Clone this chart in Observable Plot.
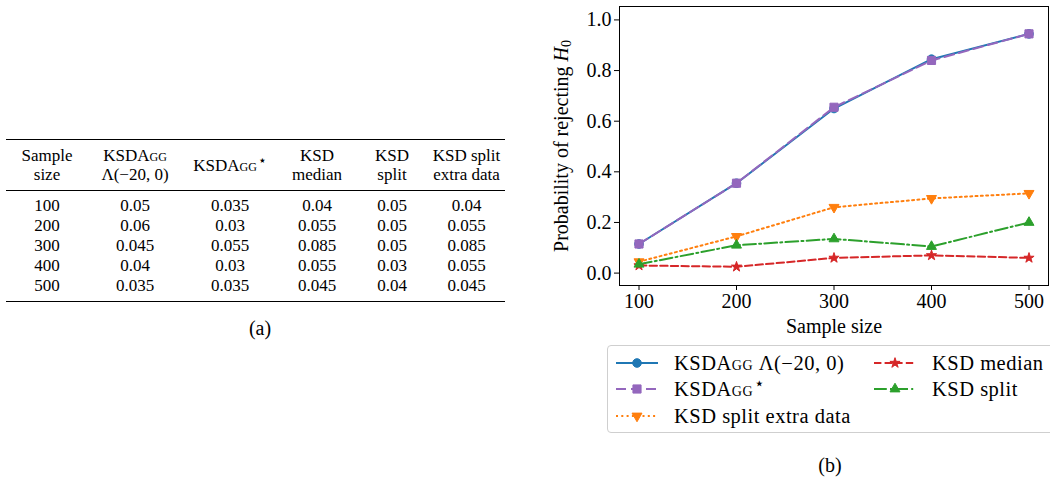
<!DOCTYPE html>
<html>
<head>
<meta charset="utf-8">
<script src="https://cdn.jsdelivr.net/npm/d3@7"></script>
<script src="https://cdn.jsdelivr.net/npm/@observablehq/plot@0.6"></script>
<style>
  html, body { margin: 0; padding: 0; background: #fff; }
  body { width: 1050px; height: 482px; position: relative; overflow: hidden; font-family: 'Liberation Serif', 'Times New Roman', serif; color: #000; }
  .sc { font-variant: small-caps; }
  sup.st { font-size: 0.85em; line-height: 0; vertical-align: 0; position: relative; top: -0.4em; margin-left: 1px; }
  #tbl { position: absolute; left: 6px; top: 139px; border-collapse: collapse; font-size: 17px; table-layout: fixed; width: 499px; }
  #tbl th, #tbl td { text-align: center; padding: 0; font-weight: normal; }
  #tbl thead tr { border-top: 1.5px solid #000; border-bottom: 1px solid #000; }
  #tbl thead th { height: 50px; line-height: 19px; vertical-align: middle; }
  #tbl tbody tr td { height: 20px; line-height: 20px; }
  #tbl tbody tr:first-child td { padding-top: 5px; }
  #tbl tbody tr:last-child td { padding-bottom: 5px; }
  #tbl tbody tr:last-child { border-bottom: 1.5px solid #000; }
  .cap { position: absolute; font-size: 20px; transform: translate(-50%, -50%); }
  #chart { position: absolute; left: 540px; top: 0px; }
  #legend { position: absolute; left: 607px; top: 345px; width: 460px; height: 86px; border: 1px solid #cfcfcf; border-radius: 4px; font-size: 20.5px; letter-spacing: 0.5px; }
  .lg { position: absolute; height: 22px; line-height: 22px; white-space: nowrap; }
  .lg svg { position: absolute; left: 0; top: 1px; }
  .lg span.t { position: absolute; }
</style>
</head>
<body>
<table id="tbl">
  <colgroup><col style="width:82px"><col style="width:94px"><col style="width:96px"><col style="width:78px"><col style="width:72px"><col style="width:77px"></colgroup>
  <thead><tr id="hdr"></tr></thead>
  <tbody id="tbody"></tbody>
</table>
<div class="cap" style="left:260px; top:328px;">(a)</div>
<div id="chart"></div>
<div id="legend"></div>
<div class="cap" style="left:830px; top:465px;">(b)</div>
<script>
// ---------- Data ----------
const sampleSizes = [100, 200, 300, 400, 500];

// Panel (b): probability of rejecting H0
const ksdaggLambda   = [0.115, 0.355, 0.650, 0.845, 0.945];
const ksdaggStar     = [0.115, 0.355, 0.655, 0.840, 0.945];
const ksdSplitExtra  = [0.045, 0.145, 0.260, 0.295, 0.315];
const ksdMedian      = [0.030, 0.025, 0.060, 0.070, 0.060];
const ksdSplit       = [0.035, 0.110, 0.135, 0.105, 0.200];

const xTicks = [100, 200, 300, 400, 500];
const yTicks = [0.0, 0.2, 0.4, 0.6, 0.8, 1.0];

// Panel (a): table values
const tableHeaders = [
  "Sample<br>size",
  "KSD<span class='sc'>Agg</span><br>Λ(−20, 0)",
  "KSD<span class='sc'>Agg</span><sup class='st'>⋆</sup>",
  "KSD<br>median",
  "KSD<br>split",
  "KSD split<br>extra data"
];
const tabLambda = ["0.05", "0.06", "0.045", "0.04", "0.035"];
const tabStar   = ["0.035", "0.03", "0.055", "0.03", "0.035"];
const tabMedian = ["0.04", "0.055", "0.085", "0.055", "0.045"];
const tabSplit  = ["0.05", "0.05", "0.05", "0.03", "0.04"];
const tabExtra  = ["0.04", "0.055", "0.085", "0.055", "0.045"];

// ---------- Table ----------
const hdr = document.getElementById("hdr");
tableHeaders.forEach(h => { const th = document.createElement("th"); th.innerHTML = h; hdr.appendChild(th); });
const tb = document.getElementById("tbody");
sampleSizes.forEach((n, i) => {
  const tr = document.createElement("tr");
  [n, tabLambda[i], tabStar[i], tabMedian[i], tabSplit[i], tabExtra[i]].forEach(v => {
    const td = document.createElement("td"); td.textContent = v; tr.appendChild(td);
  });
  tb.appendChild(tr);
});

// ---------- Chart ----------
const series = [
  {name: "KSDAgg Λ(−20, 0)", html: "KSD<span class='sc'>Agg</span> Λ(−20, 0)", values: ksdaggLambda, color: "#1f77b4", dash: null, symbol: "circle", r: 4.3, rotate: 0},
  {name: "KSDAgg⋆", html: "KSD<span class='sc'>Agg</span><sup class='st'>⋆</sup>", values: ksdaggStar, color: "#9467bd", dash: "10,5", symbol: "square", r: 4.6, rotate: 0},
  {name: "KSD split extra data", html: "KSD split extra data", values: ksdSplitExtra, color: "#ff7f0e", dash: "2,3.3", symbol: "triangle", r: 3.7, rotate: 180},
  {name: "KSD median", html: "KSD median", values: ksdMedian, color: "#d62728", dash: "7.4,3.2", symbol: "star", r: 3.2, rotate: 0},
  {name: "KSD split", html: "KSD split", values: ksdSplit, color: "#2ca02c", dash: "12.8,3.2,2,3.2", symbol: "triangle", r: 3.7, rotate: 0}
];

const marks = [];
for (const s of series) {
  const rows = sampleSizes.map((n, i) => ({n, p: s.values[i]}));
  marks.push(Plot.line(rows, {x: "n", y: "p", stroke: s.color, strokeWidth: 2, strokeDasharray: s.dash || undefined}));
  marks.push(Plot.dot(rows, {x: "n", y: "p", symbol: () => s.symbol, r: s.r, fill: s.color, stroke: s.color, strokeWidth: 1, rotate: s.rotate}));
}

const plot = Plot.plot({
  width: 510,
  height: 340,
  marginLeft: 79,
  marginRight: 2,
  marginTop: 6,
  marginBottom: 55,
  style: {fontFamily: "'Liberation Serif', 'Times New Roman', serif", fontSize: "20px", color: "#000", background: "#fff"},
  x: {domain: [80, 520]},
  y: {domain: [-0.049, 1.053]},
  marks: [
    Plot.axisX({ticks: xTicks, tickSize: 5, tickPadding: 3, tickFormat: d3.format("d"), fontSize: 20, label: "Sample size", labelAnchor: "center", labelOffset: 47, labelArrow: "none"}),
    Plot.axisY({ticks: yTicks, tickSize: 5, tickPadding: 3, tickFormat: d3.format(".1f"), fontSize: 20, label: "Probability of rejecting H0", labelAnchor: "center", labelOffset: 66, labelArrow: "none"}),
    ...marks,
    Plot.frame({stroke: "#000", strokeWidth: 1})
  ]
});
document.getElementById("chart").appendChild(plot);

// Italic H with subscript 0 in the y-axis label
d3.select(plot).selectAll('g[aria-label="y-axis label"] text').each(function() {
  const t = d3.select(this);
  const txt = t.text().replace(/H0$/, "");
  t.text("");
  t.append("tspan").text(txt);
  t.append("tspan").attr("font-style", "italic").text("H");
  t.append("tspan").attr("font-size", "14px").attr("dy", "0.25em").text("0");
});

// ---------- Legend ----------
const legend = document.getElementById("legend");
const colX = [8, 266];
const textX = 58;
const rowY = [6, 32, 59];
const pos = [[0,0],[0,1],[0,2],[1,0],[1,1]];
const symMap = {circle: d3.symbolCircle, square: d3.symbolSquare, triangle: d3.symbolTriangle, star: d3.symbolStar};
series.forEach((s, i) => {
  const [c, r] = pos[i];
  const div = document.createElement("div");
  div.className = "lg";
  div.style.left = colX[c] + "px";
  div.style.top = rowY[r] + "px";
  const svg = d3.create("svg").attr("width", 44).attr("height", 20);
  svg.append("line").attr("x1", 0).attr("x2", 42).attr("y1", 10).attr("y2", 10)
    .attr("stroke", s.color).attr("stroke-width", 2).attr("stroke-dasharray", s.dash);
  svg.append("path").attr("d", d3.symbol(symMap[s.symbol], Math.PI * s.r * s.r)())
    .attr("transform", `translate(21,10) rotate(${s.rotate})`)
    .attr("fill", s.color).attr("stroke", s.color).attr("stroke-width", 1);
  div.appendChild(svg.node());
  const t = document.createElement("span");
  t.className = "t";
  t.style.left = textX + "px";
  t.innerHTML = s.html;
  div.appendChild(t);
  legend.appendChild(div);
});
</script>
</body>
</html>
